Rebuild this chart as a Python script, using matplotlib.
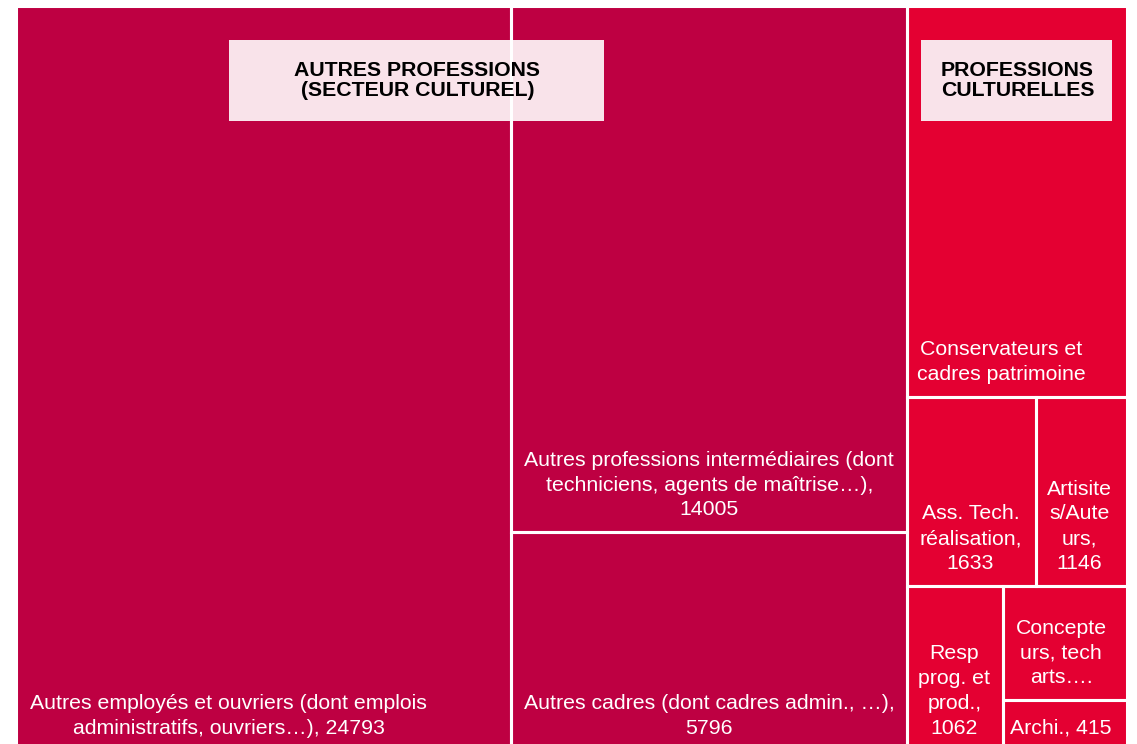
import matplotlib
matplotlib.use("Agg")
import matplotlib.pyplot as plt
from matplotlib.patches import Rectangle

# ---------------- data ----------------
groups = ["AUTRES PROFESSIONS\n(SECTEUR CULTUREL)", "PROFESSIONS\nCULTURELLES"]
categories = [
    "Autres employés et ouvriers (dont emplois administratifs, ouvriers…)",
    "Autres professions intermédiaires (dont techniciens, agents de maîtrise…)",
    "Autres cadres (dont cadres admin., …)",
    "Conservateurs et cadres patrimoine",
    "Ass. Tech. réalisation",
    "Artisites/Auteurs",
    "Resp prog. et prod.",
    "Concepteurs, tech arts….",
    "Archi.",
]
values = [24793, 14005, 5796, 5760, 1633, 1146, 1062, 948, 415]
category_group = [0, 0, 0, 1, 1, 1, 1, 1, 1]
# labels as displayed (wrapped like the reference)
display_labels = [
    "Autres employés et ouvriers (dont emplois\nadministratifs, ouvriers…), {v}",
    "Autres professions intermédiaires (dont\ntechniciens, agents de maîtrise…),\n{v}",
    "Autres cadres (dont cadres admin., …),\n{v}",
    "Conservateurs et\ncadres patrimoine",
    "Ass. Tech.\nréalisation,\n{v}",
    "Artisite\ns/Aute\nurs,\n{v}",
    "Resp\nprog. et\nprod.,\n{v}",
    "Concepte\nurs, tech\narts….",
    "Archi., {v}",
]

# ---------------- style ----------------
plt.rcParams['font.family'] = ['Liberation Sans', 'DejaVu Sans']
group_colors = ["#BE0042", "#E40032"]
header_bg = "#F9E3EA"

W_PX, H_PX = 1137, 744
fig = plt.figure(figsize=(W_PX / 100, H_PX / 100), dpi=100)
ax = fig.add_axes([0, 0, 1, 1])
ax.set_xlim(0, W_PX)
ax.set_ylim(H_PX, 0)
ax.axis("off")

# treemap area (layout)
X0, Y0, W, H = 15.5, 5.5, 1111.0, 745.0

total = sum(values)
v = values
rects = [None] * len(values)

# column 1: category 0
w0 = W * v[0] / total
rects[0] = (X0, Y0, w0, H)
# column 2: categories 1, 2 stacked
mid_sum = v[1] + v[2]
w1 = W * mid_sum / total
x1 = X0 + w0
h1 = H * v[1] / mid_sum
rects[1] = (x1, Y0, w1, h1)
rects[2] = (x1, Y0 + h1, w1, H - h1)
# column 3: cultural professions
x2 = x1 + w1
w2 = X0 + W - x2
right_sum = sum(v[3:])
row_a = v[3]
row_b = v[4] + v[5]
row_c = v[6] + v[7] + v[8]
ha = H * row_a / right_sum
hb = H * row_b / right_sum
hc = H - ha - hb
rects[3] = (x2, Y0, w2, ha)
yb = Y0 + ha
wb4 = w2 * v[4] / row_b
rects[4] = (x2, yb, wb4, hb)
rects[5] = (x2 + wb4, yb, w2 - wb4, hb)
yc = yb + hb
wc6 = w2 * v[6] / row_c
rects[6] = (x2, yc, wc6, hc)
sub = v[7] + v[8]
hc7 = hc * v[7] / sub
rects[7] = (x2 + wc6, yc, w2 - wc6, hc7)
rects[8] = (x2 + wc6, yc + hc7, w2 - wc6, hc - hc7)

# label anchor (fraction of width) per tile
label_xfrac = [0.43, 0.5, 0.5, 0.43, 0.49, 0.48, 0.49, 0.47, 0.47]

LW = 2.2
for i, (x, y, w, h) in enumerate(rects):
    ax.add_patch(Rectangle((x, y), w, h, facecolor=group_colors[category_group[i]],
                           edgecolor="none", zorder=1))

# group header boxes (layout positions)
header_boxes = [(229, 40, 375, 81), (921, 40, 191, 81)]
for (bx, by, bw, bh), g in zip(header_boxes, groups):
    ax.add_patch(Rectangle((bx, by), bw, bh, facecolor=header_bg, edgecolor="none",
                           zorder=2))

# white separators on top
for (x, y, w, h) in rects:
    ax.add_patch(Rectangle((x, y), w, h, facecolor="none", edgecolor="white",
                           linewidth=LW, zorder=3))

for (bx, by, bw, bh), g in zip(header_boxes, groups):
    ax.text(bx + bw / 2 + 1, by + bh / 2, g, ha="center", va="center",
            fontsize=15.3, fontweight="bold", color="black", linespacing=1.08, zorder=5)

PAD = 13
for i, (x, y, w, h) in enumerate(rects):
    txt = display_labels[i].format(v=values[i])
    ax.text(x + w * label_xfrac[i], y + h - PAD, txt,
            ha="center", va="bottom", fontsize=15.3, color="white",
            linespacing=1.38, multialignment="center", zorder=5)

fig.savefig("out.png", dpi=100)
